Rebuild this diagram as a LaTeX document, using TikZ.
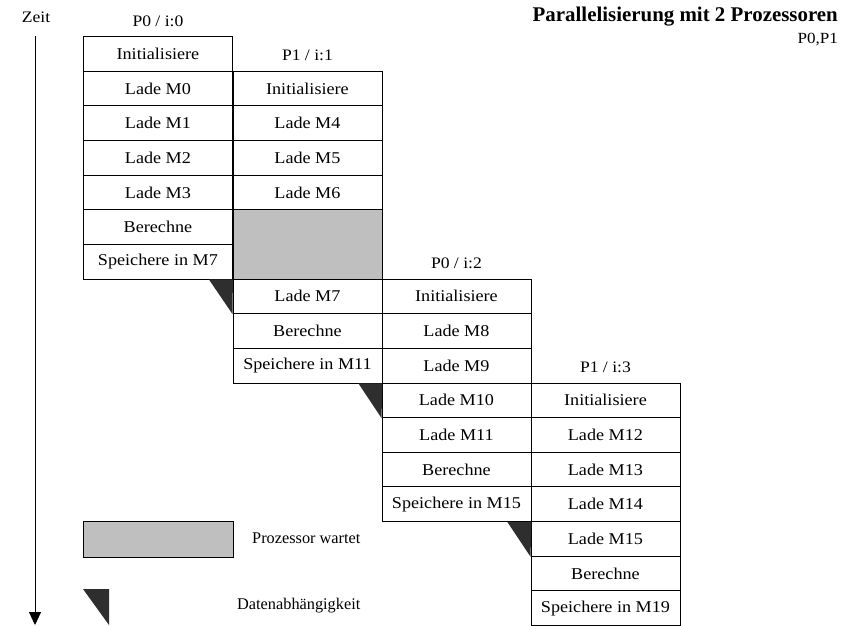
\documentclass[tikz,border=0pt]{standalone}
\usepackage{fontspec}
\setmainfont{Liberation Serif}
\newfontfamily\cellfont[FakeStretch=1.1]{Liberation Serif}
\usetikzlibrary{arrows.meta,positioning}
\begin{document}
\begin{tikzpicture}[x=1pt,y=-1pt,
  cell/.style={draw, line width=0.9pt, rectangle, anchor=north west, inner sep=0pt,
    minimum width=149pt, minimum height=34.65pt, font=\cellfont\fontsize{16.5}{18}\selectfont},
  waitbox/.style={draw, line width=0.9pt, fill=black!25},
  head/.style={font=\cellfont\fontsize{16}{18}\selectfont, inner sep=0pt},
  label/.style={font=\fontsize{16.3}{18}\selectfont, inner sep=0pt, anchor=west},
  depend/.style={fill=black!82, draw=none}]
\useasboundingbox (0,0) rectangle (861,625);

% time axis
\node[head] (zeit) at (36,17) {Zeit};
\coordinate (tstart) at (35,36);
\coordinate (tend) at (35,625);
\draw[line width=0.9pt, -{Triangle[width=12pt,length=13pt]}] (tstart) -- (tend);

% title
\node[font=\bfseries\fontsize{20.9}{22}\selectfont, inner sep=0pt, anchor=base east] (title) at (838,21) {Parallelisierung mit 2 Prozessoren};
\node[font=\cellfont\fontsize{15.5}{18}\selectfont, inner sep=0pt, anchor=base east] (procs) at (838,43) {P0,P1};

% column P0 / i:0
\node[cell] (a0) at (83,36) {Initialisiere};
\node[cell] (a1) at (83,70.65) {Lade M0};
\node[cell] (a2) at (83,105.3) {Lade M1};
\node[cell] (a3) at (83,139.95) {Lade M2};
\node[cell] (a4) at (83,174.6) {Lade M3};
\node[cell] (a5) at (83,209.25) {Berechne};
\node[cell] (a6) at (83,243.9) {Speichere in M7};
\node[head, above=9.5pt of a0.north] (ha) {P0 / i:0};

% column P1 / i:1
\node[cell] (b1) at (232.5,70.65) {Initialisiere};
\node[cell] (b2) at (232.5,105.3) {Lade M4};
\node[cell] (b3) at (232.5,139.95) {Lade M5};
\node[cell] (b4) at (232.5,174.6) {Lade M6};
\node[cell, waitbox, minimum height=69.3pt] (bw) at (232.5,209.25) {};
\node[cell] (b7) at (232.5,278.55) {Lade M7};
\node[cell] (b8) at (232.5,313.2) {Berechne};
\node[cell] (b9) at (232.5,347.85) {Speichere in M11};
\node[head, above=9.5pt of b1.north] (hb) {P1 / i:1};

% column P0 / i:2
\node[cell] (c7) at (381.5,278.55) {Initialisiere};
\node[cell] (c8) at (381.5,313.2) {Lade M8};
\node[cell] (c9) at (381.5,347.85) {Lade M9};
\node[cell] (c10) at (381.5,382.5) {Lade M10};
\node[cell] (c11) at (381.5,417.15) {Lade M11};
\node[cell] (c12) at (381.5,451.8) {Berechne};
\node[cell] (c13) at (381.5,486.45) {Speichere in M15};
\node[head, above=9.5pt of c7.north] (hc) {P0 / i:2};

% column P1 / i:3
\node[cell] (d10) at (530.5,382.5) {Initialisiere};
\node[cell] (d11) at (530.5,417.15) {Lade M12};
\node[cell] (d12) at (530.5,451.8) {Lade M13};
\node[cell] (d13) at (530.5,486.45) {Lade M14};
\node[cell] (d14) at (530.5,521.1) {Lade M15};
\node[cell] (d15) at (530.5,555.75) {Berechne};
\node[cell] (d16) at (530.5,590.4) {Speichere in M19};
\node[head, above=9.5pt of d10.north] (hd) {P1 / i:3};

% data dependencies between iterations
\fill[depend] (a6.south east) -- ++(-24,0) -- (b7.south west) -- cycle;
\fill[depend] (b9.south east) -- ++(-24,0) -- (c10.south west) -- cycle;
\fill[depend] (c13.south east) -- ++(-24,0) -- (d14.south west) -- cycle;

% legend
\node[waitbox, anchor=north west, minimum width=150pt, minimum height=36pt, inner sep=0pt] (lw) at (83,521) {};
\node[label] (lwt) at (252,538) {Prozessor wartet};
\coordinate (lt) at (83,589);
\fill[depend] (lt) -- ++(26,0) -- ++(0,36) -- cycle;
\node[label] (ldt) at (237,606) {Datenabhängigkeit};
\end{tikzpicture}
\end{document}
